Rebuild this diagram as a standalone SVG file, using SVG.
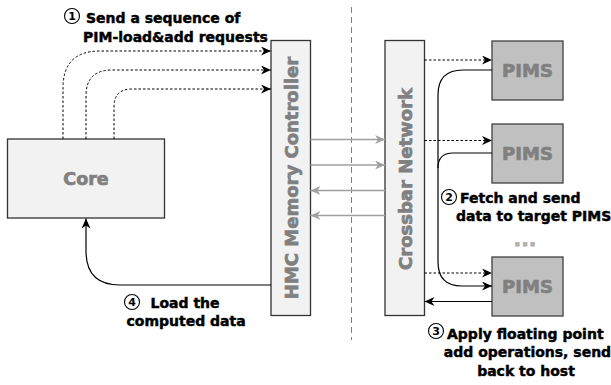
<svg xmlns="http://www.w3.org/2000/svg" width="611" height="385" viewBox="0 0 611 385">
<defs>
<marker id="ab" markerUnits="userSpaceOnUse" markerWidth="11" markerHeight="9" refX="10" refY="4.5" orient="auto" viewBox="0 0 11 9">
<path d="M0,0 L10,4.5 L0,9 L3,4.5 z" fill="#000"/>
</marker>
<marker id="ag" markerUnits="userSpaceOnUse" markerWidth="11" markerHeight="9" refX="10" refY="4.5" orient="auto" viewBox="0 0 11 9">
<path d="M0,0 L10,4.5 L0,9 L3,4.5 z" fill="#A0A0A0"/>
</marker>
</defs>
<style>
.box{fill:#F2F2F2;stroke:#333;stroke-width:1.3}
.pims{fill:#C0C0C0;stroke:#404040;stroke-width:1.3}
.nt{font-family:"DejaVu Sans",sans-serif;font-weight:bold;fill:#808080;stroke:#808080;stroke-width:0.7;text-anchor:middle}
.lb{font-family:"DejaVu Sans",sans-serif;font-weight:bold;font-size:14px;fill:#000;stroke:#000;stroke-width:0.45}
.num{font-family:"DejaVu Sans",sans-serif;font-weight:bold;font-size:11px;fill:#000;text-anchor:middle}
.circ{fill:none;stroke:#000;stroke-width:1.1}
.dot{fill:none;stroke:#000;stroke-width:1;stroke-dasharray:2.5,2}
.sol{fill:none;stroke:#000;stroke-width:1.2}
.gr{fill:none;stroke:#A0A0A0;stroke-width:1.3}
</style>
<rect width="611" height="385" fill="#fff"/>
<path d="M351.5,7 V340" stroke="#808080" stroke-width="1" stroke-dasharray="6,4" fill="none"/>
<g id="core">
<rect class="box" x="7.5" y="139" width="157" height="79"/>
<text class="nt" x="86" y="184.5" font-size="17.5">Core</text>
</g>
<g id="hmc">
<rect class="box" x="271" y="40.5" width="39.5" height="275"/>
<text class="nt" font-size="18" transform="translate(297.5,178) rotate(-90)">HMC Memory Controller</text>
</g>
<g id="crossbar">
<rect class="box" x="385" y="40.5" width="39.5" height="275"/>
<text class="nt" font-size="18" transform="translate(411.5,179) rotate(-90)">Crossbar Network</text>
</g>
<g id="pims1">
<rect class="pims" x="492" y="41" width="71" height="59"/>
<text class="nt" x="527.5" y="77" font-size="18">PIMS</text>
</g>
<g id="pims2">
<rect class="pims" x="492" y="124" width="71" height="59"/>
<text class="nt" x="527.5" y="160" font-size="18">PIMS</text>
</g>
<g id="pims3">
<rect class="pims" x="492" y="257" width="71" height="59"/>
<text class="nt" x="527.5" y="293" font-size="18">PIMS</text>
</g>
<g id="ellipsis">
<text x="525" y="246" font-family="DejaVu Sans,sans-serif" font-weight="bold" font-size="20" fill="#B0B0B0" stroke="#B0B0B0" stroke-width="0.8" text-anchor="middle">...</text>
</g>
<g id="connectors">
<path class="dot" d="M63,139 V88 Q63,51 100,51 H271" marker-end="url(#ab)"/>
<path class="dot" d="M86,139 V96 Q86,70 112,70 H271" marker-end="url(#ab)"/>
<path class="dot" d="M114,139 V107 Q114,89 132,89 H271" marker-end="url(#ab)"/>
<path class="gr" d="M310.5,139.5 H385" marker-end="url(#ag)"/>
<path class="gr" d="M310.5,165 H385" marker-end="url(#ag)"/>
<path class="gr" d="M385,190.5 H310.5" marker-end="url(#ag)"/>
<path class="gr" d="M385,215.5 H310.5" marker-end="url(#ag)"/>
<path class="dot" d="M424.5,60 H492" marker-end="url(#ab)"/>
<path class="dot" d="M424.5,140.5 H492" marker-end="url(#ab)"/>
<path class="dot" d="M424.5,273 H492" marker-end="url(#ab)"/>
<path class="sol" d="M492,70 H463 Q438,70 438,95 V262 Q438,286 462,286 H492" marker-end="url(#ab)"/>
<path class="sol" d="M492,153 H453 Q438,153 438,168"/>
<path class="sol" d="M492,301.5 H424.5" marker-end="url(#ab)"/>
<path class="sol" d="M271,285 H120 Q86,285 86,251 V218.5" marker-end="url(#ab)"/>
</g>
<g id="label1">
<circle class="circ" cx="72" cy="16" r="7.5"/>
<text class="num" x="72" y="20">1</text>
<text class="lb" x="86" y="22.5">Send a sequence of</text>
<text class="lb" x="83" y="41.5">PIM-load&amp;add requests</text>
</g>
<g id="label2">
<circle class="circ" cx="449" cy="197" r="7.5"/>
<text class="num" x="449" y="201">2</text>
<text class="lb" x="460" y="203">Fetch and send</text>
<text class="lb" x="456" y="220.5">data to target PIMS</text>
</g>
<g id="label3">
<circle class="circ" cx="436" cy="331" r="7.5"/>
<text class="num" x="436" y="335">3</text>
<text class="lb" x="447" y="338.5">Apply floating point</text>
<text class="lb" x="527.5" y="357" text-anchor="middle">add operations, send</text>
<text class="lb" x="526" y="375.5" text-anchor="middle">back to host</text>
</g>
<g id="label4">
<circle class="circ" cx="132" cy="302" r="7.5"/>
<text class="num" x="132" y="306">4</text>
<text class="lb" x="150.5" y="307.5">Load the</text>
<text class="lb" x="126.5" y="326">computed data</text>
</g>
</svg>
